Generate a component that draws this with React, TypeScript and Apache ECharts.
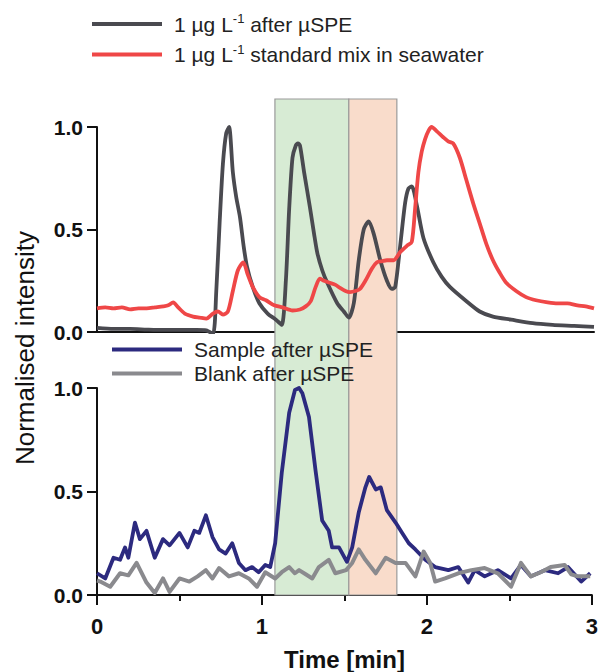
import React, { useEffect, useRef } from "react";
import * as echarts from "echarts";

// ---- data (time in min, normalised intensity) ----
const darkTime = [0, 0.1, 0.2, 0.3, 0.4, 0.5, 0.6, 0.66, 0.70, 0.72, 0.74, 0.76, 0.78, 0.797, 0.82, 0.84, 0.863, 0.885, 0.905, 0.94, 0.98, 1.03, 1.08, 1.115, 1.14, 1.16, 1.18, 1.20, 1.213, 1.225, 1.25, 1.285, 1.31, 1.33, 1.36, 1.39, 1.45, 1.49, 1.52, 1.55, 1.58, 1.61, 1.64, 1.67, 1.71, 1.75, 1.78, 1.80, 1.83, 1.86, 1.88, 1.90, 1.93, 1.97, 2.03, 2.08, 2.13, 2.23, 2.31, 2.39, 2.5, 2.63, 2.75, 2.88, 3.0];
const darkValue = [0.02, 0.015, 0.015, 0.012, 0.01, 0.01, 0.01, 0.008, -0.01, 0.2, 0.53, 0.82, 0.97, 1.0, 0.78, 0.66, 0.56, 0.42, 0.32, 0.22, 0.14, 0.09, 0.06, 0.035, 0.25, 0.6, 0.85, 0.91, 0.92, 0.91, 0.78, 0.61, 0.48, 0.385, 0.3, 0.24, 0.14, 0.1, 0.07, 0.14, 0.35, 0.5, 0.54, 0.48, 0.35, 0.25, 0.21, 0.22, 0.42, 0.63, 0.70, 0.71, 0.62, 0.46, 0.34, 0.27, 0.22, 0.15, 0.1, 0.075, 0.06, 0.043, 0.035, 0.03, 0.025];

const redTime = [0, 0.05, 0.1, 0.15, 0.2, 0.25, 0.3, 0.35, 0.4, 0.43, 0.46, 0.49, 0.53, 0.58, 0.62, 0.66, 0.70, 0.73, 0.76, 0.79, 0.82, 0.85, 0.883, 0.91, 0.94, 0.98, 1.02, 1.07, 1.12, 1.18, 1.225, 1.26, 1.29, 1.32, 1.345, 1.37, 1.405, 1.44, 1.467, 1.50, 1.527, 1.56, 1.587, 1.62, 1.66, 1.69, 1.72, 1.75, 1.79, 1.83, 1.87, 1.90, 1.92, 1.94, 1.96, 1.98, 2.0, 2.02, 2.05, 2.09, 2.12, 2.15, 2.19, 2.23, 2.27, 2.31, 2.35, 2.39, 2.43, 2.47, 2.53, 2.59, 2.65, 2.72, 2.78, 2.84, 2.9, 2.95, 3.0];
const redValue = [0.115, 0.12, 0.115, 0.12, 0.11, 0.115, 0.115, 0.12, 0.125, 0.13, 0.145, 0.12, 0.09, 0.075, 0.07, 0.065, 0.09, 0.1, 0.085, 0.1, 0.2, 0.3, 0.34, 0.28, 0.22, 0.17, 0.155, 0.13, 0.12, 0.105, 0.11, 0.125, 0.15, 0.22, 0.26, 0.25, 0.24, 0.23, 0.215, 0.2, 0.195, 0.2, 0.21, 0.25, 0.31, 0.34, 0.345, 0.35, 0.35, 0.39, 0.42, 0.44, 0.6, 0.78, 0.88, 0.94, 0.98, 1.0, 0.98, 0.95, 0.93, 0.92, 0.85, 0.74, 0.63, 0.53, 0.43, 0.35, 0.29, 0.24, 0.2, 0.17, 0.155, 0.145, 0.14, 0.14, 0.13, 0.125, 0.115];

const sampleTime = [0, 0.05, 0.10, 0.14, 0.17, 0.19, 0.23, 0.26, 0.30, 0.35, 0.40, 0.44, 0.50, 0.55, 0.59, 0.62, 0.66, 0.70, 0.74, 0.78, 0.82, 0.86, 0.90, 0.94, 0.98, 1.02, 1.05, 1.08, 1.12, 1.165, 1.20, 1.225, 1.245, 1.285, 1.325, 1.365, 1.405, 1.425, 1.467, 1.515, 1.547, 1.587, 1.627, 1.65, 1.69, 1.72, 1.757, 1.81, 1.85, 1.89, 1.93, 1.99, 2.05, 2.13, 2.19, 2.25, 2.29, 2.35, 2.43, 2.51, 2.57, 2.63, 2.715, 2.795, 2.855, 2.935, 2.99];
const sampleValue = [0.105, 0.08, 0.18, 0.17, 0.23, 0.18, 0.35, 0.27, 0.31, 0.18, 0.27, 0.24, 0.30, 0.23, 0.31, 0.30, 0.385, 0.28, 0.22, 0.20, 0.25, 0.155, 0.12, 0.135, 0.11, 0.145, 0.135, 0.25, 0.59, 0.88, 0.99, 1.0, 0.975, 0.86, 0.60, 0.36, 0.31, 0.23, 0.23, 0.16, 0.23, 0.40, 0.52, 0.57, 0.51, 0.52, 0.41, 0.35, 0.30, 0.25, 0.22, 0.17, 0.135, 0.12, 0.135, 0.06, 0.12, 0.09, 0.12, 0.08, 0.145, 0.09, 0.12, 0.105, 0.135, 0.065, 0.105];

const blankTime = [0.0, 0.02, 0.08, 0.14, 0.19, 0.24, 0.30, 0.35, 0.40, 0.44, 0.50, 0.56, 0.61, 0.66, 0.70, 0.74, 0.80, 0.86, 0.92, 0.97, 1.02, 1.08, 1.12, 1.165, 1.20, 1.225, 1.265, 1.305, 1.345, 1.405, 1.445, 1.51, 1.547, 1.587, 1.627, 1.69, 1.75, 1.81, 1.87, 1.93, 1.98, 2.02, 2.05, 2.11, 2.19, 2.27, 2.35, 2.43, 2.51, 2.57, 2.63, 2.69, 2.75, 2.835, 2.875, 2.915, 2.99];
const blankValue = [0.07, 0.065, 0.04, 0.105, 0.095, 0.155, 0.06, 0.01, 0.08, 0.015, 0.08, 0.065, 0.09, 0.12, 0.08, 0.13, 0.09, 0.105, 0.08, 0.04, 0.11, 0.08, 0.11, 0.135, 0.105, 0.12, 0.1, 0.08, 0.135, 0.17, 0.105, 0.12, 0.155, 0.22, 0.17, 0.105, 0.18, 0.155, 0.155, 0.09, 0.21, 0.155, 0.065, 0.08, 0.105, 0.12, 0.13, 0.105, 0.04, 0.155, 0.09, 0.11, 0.135, 0.145, 0.1, 0.09, 0.09];

// shaded retention windows [start, end] in min
const windows = [[1.074, 1.52], [1.52, 1.81]];

const seriesNames = [
  "1 µg L-1 after µSPE",
  "1 µg L-1 standard mix in seawater",
  "Sample after µSPE",
  "Blank after µSPE",
];
const xTicks = { min: 0, max: 3, interval: 1 };
const yTicks = { min: 0, max: 1, interval: 0.5 };

const zip = (t: number[], v: number[]) => t.map((x, i) => [x, v[i]]);

const FONT = "Liberation Sans, Arial, sans-serif";

export default function App() {
  const ref = useRef<HTMLDivElement>(null);
  useEffect(() => {
    if (!ref.current) return;
    const chart = echarts.init(ref.current, null, { renderer: "svg" });
    const axisLine = { show: true, lineStyle: { color: "#111", width: 2 } };
    const yAxisCommon = (gridIndex: number) => ({
      type: "value",
      gridIndex,
      min: yTicks.min,
      max: yTicks.max,
      interval: yTicks.interval,
      axisLine,
      axisTick: { show: true, length: 10, lineStyle: { color: "#111", width: 2 } },
      axisLabel: {
        margin: 14,
        color: "#111",
        fontFamily: FONT,
        fontWeight: "bold",
        fontSize: 21,
        formatter: (v: number) => v.toFixed(1),
      },
      splitLine: { show: false },
    });
    const legendFmt = (name: string) => {
      const m = name.match(/^(.*L)-1(.*)$/);
      if (m) return `{f|${m[1]}}{s|-1}{a|${m[2]}}`;
      return `{f|${name}}`;
    };
    const rich = {
      f: { fontSize: 21, fontFamily: FONT, color: "#222", lineHeight: 24, padding: [0, 0, 0, 7] },
      a: { fontSize: 21, fontFamily: FONT, color: "#222", lineHeight: 24 },
      s: { fontSize: 13, fontFamily: FONT, color: "#222", lineHeight: 12, verticalAlign: "top" },
    };
    const lineSeries = (name: string, data: number[][], color: string, idx: number, width: number, smooth: number | boolean) => ({
      name,
      type: "line",
      xAxisIndex: idx,
      yAxisIndex: idx,
      data,
      showSymbol: false,
      symbol: "none",
      smooth,
      z: 3,
      itemStyle: { color },
      lineStyle: { color, width, join: "round" },
    });
    chart.setOption({
      animation: false,
      backgroundColor: "#fff",
      textStyle: { fontFamily: FONT },
      grid: [
        { left: 97, right: 7, top: 99, bottom: 77 },
        { left: 97, right: 7, top: 127, height: 205 },
        { left: 97, right: 7, top: 388, height: 207 },
      ],
      xAxis: [
        { type: "value", gridIndex: 0, min: xTicks.min, max: xTicks.max, show: false },
        {
          type: "value", gridIndex: 1, min: xTicks.min, max: xTicks.max, interval: xTicks.interval,
          axisLine, axisTick: { show: false }, axisLabel: { show: false }, splitLine: { show: false },
        },
        {
          type: "value", gridIndex: 2, min: xTicks.min, max: xTicks.max, interval: xTicks.interval,
          axisLine,
          axisTick: { show: true, length: 10, lineStyle: { color: "#111", width: 2 } },
          minorTick: { show: true, splitNumber: 2, length: 6, lineStyle: { color: "#111", width: 2 } },
          axisLabel: { margin: 20, color: "#111", fontFamily: FONT, fontWeight: "bold", fontSize: 22 },
          splitLine: { show: false },
          name: "Time [min]",
          nameLocation: "middle",
          nameGap: 52,
          nameTextStyle: { color: "#111", fontFamily: FONT, fontWeight: "bold", fontSize: 24 },
        },
      ],
      yAxis: [
        { type: "value", gridIndex: 0, min: 0, max: 1, show: false },
        yAxisCommon(1),
        yAxisCommon(2),
      ],
      legend: [
        {
          data: [seriesNames[0], seriesNames[1]],
          orient: "vertical", left: 87, top: 7, itemGap: 8,
          itemWidth: 70, itemHeight: 4, icon: "rect", selectedMode: false,
          formatter: legendFmt, textStyle: { rich },
        },
        {
          data: [seriesNames[2], seriesNames[3]],
          orient: "vertical", left: 107, top: 334, itemGap: 3,
          itemWidth: 70, itemHeight: 4, icon: "rect", selectedMode: false,
          formatter: legendFmt, textStyle: { rich },
        },
      ],
      graphic: [
        {
          type: "text",
          x: 25, y: 348,
          rotation: Math.PI / 2,
          style: {
            text: "Normalised intensity",
            font: `26px ${FONT}`,
            fill: "#111",
            textAlign: "center",
            textVerticalAlign: "middle",
          },
        },
      ],
      series: [
        {
          type: "line",
          name: "windows",
          xAxisIndex: 0,
          yAxisIndex: 0,
          data: [[xTicks.min, 0]],
          showSymbol: false,
          symbol: "none",
          lineStyle: { width: 0, opacity: 0 },
          z: 0,
          silent: true,
          markArea: {
            silent: true,
            data: windows.map((w, i) => [
              {
                xAxis: w[0],
                itemStyle: {
                  color: i === 0 ? "#d7ebd4" : "#f9dccb",
                  borderColor: "#9a9a9a",
                  borderWidth: 1.2,
                },
              },
              { xAxis: w[1] },
            ]),
          },
        },
        lineSeries(seriesNames[0], zip(darkTime, darkValue), "#4a4a50", 1, 3.8, 0.25),
        lineSeries(seriesNames[1], zip(redTime, redValue), "#ef4747", 1, 3.8, 0.25),
        lineSeries(seriesNames[2], zip(sampleTime, sampleValue), "#2c2a7f", 2, 3.8, false),
        lineSeries(seriesNames[3], zip(blankTime, blankValue), "#8a8a8e", 2, 4, false),
      ],
    });
    return () => chart.dispose();
  }, []);
  return <div ref={ref} style={{ width: 601, height: 672, position: "absolute", left: 0, top: 0 }} />;
}
